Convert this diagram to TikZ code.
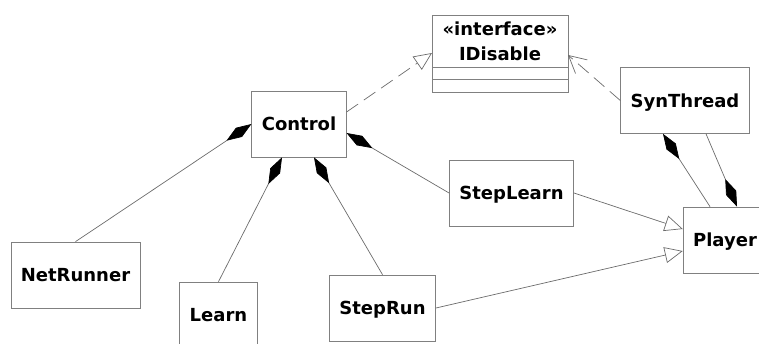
\documentclass[tikz,border=0pt]{standalone}
\usepackage{fontspec}
\setmainfont{DejaVu Sans}
\usetikzlibrary{arrows.meta}
\definecolor{umlline}{gray}{0.42}
\definecolor{umlframe}{gray}{0.5}

\begin{document}
\begin{tikzpicture}[x=1pt,y=-1pt,line width=0.7pt,
    umlclass/.style={draw=umlframe,fill=white,inner xsep=10pt,minimum height=66pt,
      text height=13pt,text depth=0pt,font=\fontsize{18}{25}\selectfont\bfseries},
    umliface/.style={draw=umlframe,fill=white,minimum width=136pt,minimum height=52pt,outer sep=0pt,
      inner ysep=2pt,align=center,font=\fontsize{18}{25}\selectfont\bfseries},
    umlcompart/.style={draw=umlframe,minimum width=136pt,minimum height=12.5pt,inner sep=0pt,
      outer sep=0pt,anchor=north},
    comp/.style={draw=umlline,{Diamond[length=30pt,width=11pt,color=black,fill=black]}-},
    compend/.style={draw=umlline,-{Diamond[length=30pt,width=11pt,color=black,fill=black]}},
    generalize/.style={draw=umlline,-{Triangle[open,length=18pt,width=16pt]}},
    realize/.style={generalize,dash pattern=on 14pt off 7pt},
    depend/.style={draw=umlline,dash pattern=on 14pt off 7pt,-{Straight Barb[length=17pt,width=18pt]}}]
  \useasboundingbox (0,0) rectangle (759,343);
  % classes
  \node[umlclass] (ctrl) at (299,124) {Control};
  \node[umliface] (idis) at (500,41) {«interface»\\IDisable};
  \node[umlcompart] (idisattr) at (idis.south) {};
  \node[umlcompart] (idisops) at (idisattr.south) {};
  \node[umlclass] (syn) at (685,100.5) {SynThread};
  \node[umlclass] (player) at (725,240) {Player};
  \node[umlclass] (net) at (75.5,275) {NetRunner};
  \node[umlclass] (learn) at (218.5,315) {Learn};
  \node[umlclass] (steprun) at (382.5,308) {StepRun};
  \node[umlclass] (steplearn) at (511.5,193) {StepLearn};
  % relations
  \draw[realize] ([yshift=12pt]ctrl.east) -- ([yshift=-12pt]idis.west);
  \draw[depend] (syn.west) -- ([yshift=-14pt]idis.east);
  \draw[comp] (ctrl.west) -- (net.north);
  \draw[comp] ([xshift=-17pt]ctrl.south) -- (learn.north);
  \draw[comp] ([xshift=15pt]ctrl.south) -- (steprun.north);
  \draw[comp] ([yshift=-9pt]ctrl.east) -- (steplearn.west);
  \draw[generalize] (steplearn.east) -- ([yshift=11pt]player.west);
  \draw[generalize] (steprun.east) -- ([yshift=-11pt]player.west);
  \draw[comp] ([xshift=-22pt]syn.south) -- ([xshift=-15pt]player.north);
  \draw[compend] ([xshift=21pt]syn.south) -- ([xshift=12pt]player.north);
\end{tikzpicture}
\end{document}
